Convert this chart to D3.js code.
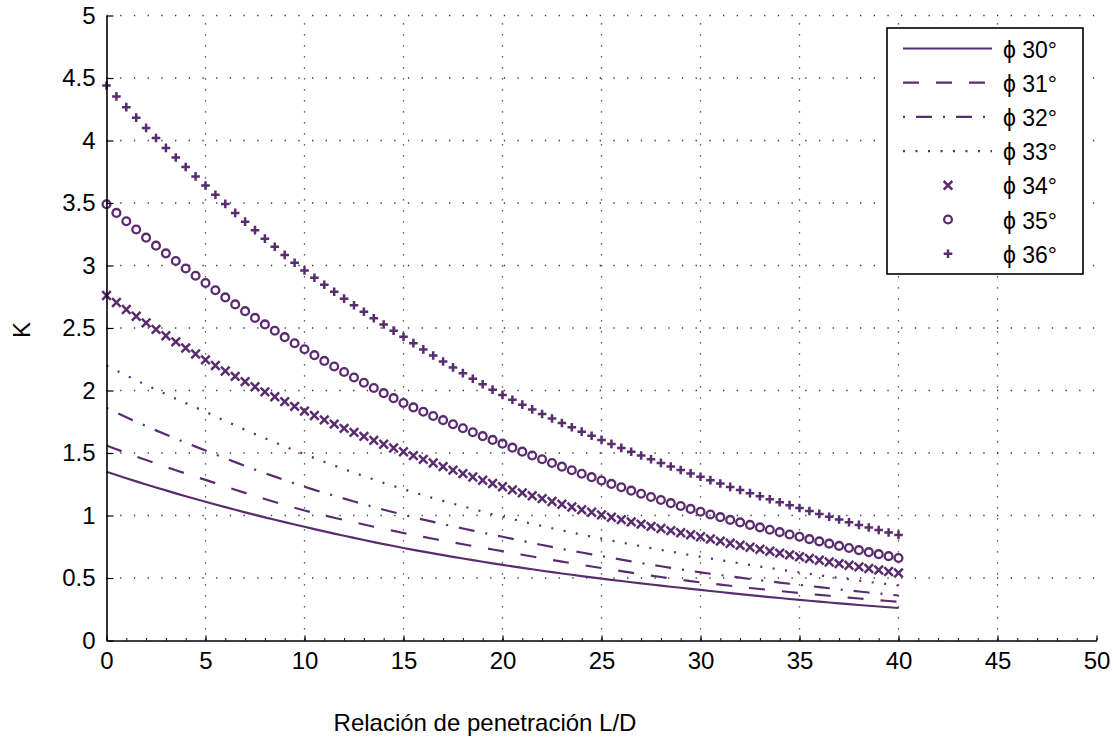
<!DOCTYPE html>
<html>
<head>
<meta charset="utf-8">
<script src="https://cdn.jsdelivr.net/npm/d3@7/dist/d3.min.js"></script>
<style>
  html, body { margin: 0; padding: 0; background: #fff; }
  svg { display: block; }
  text { font-family: "Liberation Sans", Arial, Helvetica, sans-serif; fill: #000; }
</style>
</head>
<body>
<svg id="chart" width="1113" height="738"></svg>
<script>
// Penetration ratio L/D, sampled every 0.5 from 0 to 40
const ratioLD = d3.range(0, 40.5, 0.5);

// Friction angle labels
const phiLabels = ["30°", "31°", "32°", "33°", "34°", "35°", "36°"];

// K coefficient for each friction angle
const k30 = [1.350, 1.324, 1.298, 1.273, 1.248, 1.224, 1.201, 1.177, 1.154, 1.132, 1.110,
  1.088, 1.067, 1.046, 1.025, 1.005, 0.985, 0.966, 0.947, 0.928, 0.910,
  0.891, 0.873, 0.855, 0.838, 0.821, 0.804, 0.787, 0.771, 0.756, 0.740,
  0.725, 0.711, 0.697, 0.683, 0.669, 0.656, 0.643, 0.630, 0.617, 0.605,
  0.593, 0.581, 0.570, 0.558, 0.547, 0.536, 0.526, 0.515, 0.505, 0.495,
  0.485, 0.476, 0.466, 0.457, 0.448, 0.439, 0.430, 0.422, 0.413, 0.405,
  0.396, 0.388, 0.379, 0.371, 0.363, 0.355, 0.347, 0.340, 0.332, 0.325,
  0.318, 0.311, 0.304, 0.297, 0.291, 0.284, 0.278, 0.272, 0.266, 0.260];

const k31 = [1.560, 1.530, 1.501, 1.472, 1.444, 1.416, 1.389, 1.362, 1.336, 1.310, 1.285,
  1.258, 1.232, 1.206, 1.181, 1.156, 1.132, 1.108, 1.085, 1.062, 1.040,
  1.020, 1.001, 0.982, 0.964, 0.946, 0.928, 0.910, 0.893, 0.877, 0.860,
  0.844, 0.829, 0.814, 0.799, 0.784, 0.770, 0.756, 0.742, 0.728, 0.715,
  0.700, 0.686, 0.672, 0.658, 0.644, 0.631, 0.618, 0.605, 0.592, 0.580,
  0.567, 0.555, 0.543, 0.531, 0.519, 0.508, 0.497, 0.486, 0.475, 0.465,
  0.456, 0.447, 0.438, 0.429, 0.420, 0.412, 0.404, 0.396, 0.388, 0.380,
  0.372, 0.365, 0.358, 0.350, 0.343, 0.336, 0.330, 0.323, 0.316, 0.310];

const k32 = [1.860, 1.823, 1.786, 1.751, 1.716, 1.681, 1.648, 1.615, 1.583, 1.551, 1.520,
  1.488, 1.457, 1.427, 1.397, 1.367, 1.339, 1.311, 1.283, 1.256, 1.230,
  1.205, 1.181, 1.158, 1.135, 1.112, 1.090, 1.068, 1.046, 1.026, 1.005,
  0.986, 0.967, 0.949, 0.931, 0.913, 0.896, 0.879, 0.862, 0.846, 0.830,
  0.813, 0.796, 0.780, 0.764, 0.749, 0.733, 0.718, 0.704, 0.689, 0.675,
  0.661, 0.647, 0.633, 0.620, 0.607, 0.594, 0.581, 0.569, 0.557, 0.545,
  0.534, 0.523, 0.513, 0.503, 0.492, 0.483, 0.473, 0.463, 0.454, 0.445,
  0.436, 0.427, 0.418, 0.409, 0.400, 0.392, 0.384, 0.376, 0.368, 0.360];

const k33 = [2.200, 2.160, 2.121, 2.082, 2.044, 2.007, 1.970, 1.934, 1.899, 1.864, 1.830,
  1.793, 1.756, 1.721, 1.686, 1.651, 1.618, 1.585, 1.553, 1.521, 1.490,
  1.459, 1.429, 1.400, 1.371, 1.343, 1.315, 1.288, 1.261, 1.236, 1.210,
  1.186, 1.162, 1.139, 1.117, 1.095, 1.073, 1.052, 1.031, 1.010, 0.990,
  0.971, 0.952, 0.934, 0.916, 0.898, 0.881, 0.864, 0.847, 0.831, 0.815,
  0.799, 0.784, 0.769, 0.754, 0.739, 0.725, 0.711, 0.697, 0.683, 0.670,
  0.656, 0.643, 0.630, 0.617, 0.604, 0.592, 0.580, 0.568, 0.556, 0.545,
  0.534, 0.522, 0.511, 0.500, 0.490, 0.479, 0.469, 0.459, 0.450, 0.440];

const k34 = [2.760, 2.704, 2.648, 2.594, 2.541, 2.489, 2.438, 2.389, 2.340, 2.292, 2.245,
  2.200, 2.156, 2.113, 2.071, 2.030, 1.989, 1.950, 1.911, 1.873, 1.835,
  1.800, 1.765, 1.731, 1.697, 1.665, 1.633, 1.601, 1.570, 1.540, 1.510,
  1.479, 1.449, 1.420, 1.391, 1.363, 1.335, 1.308, 1.282, 1.256, 1.230,
  1.205, 1.181, 1.158, 1.135, 1.112, 1.090, 1.068, 1.046, 1.026, 1.005,
  0.986, 0.967, 0.949, 0.931, 0.913, 0.896, 0.879, 0.862, 0.846, 0.830,
  0.812, 0.795, 0.778, 0.762, 0.746, 0.730, 0.714, 0.699, 0.685, 0.670,
  0.656, 0.642, 0.628, 0.615, 0.602, 0.589, 0.576, 0.564, 0.552, 0.540];

const k35 = [3.490, 3.421, 3.354, 3.288, 3.223, 3.159, 3.097, 3.036, 2.976, 2.918, 2.860,
  2.802, 2.745, 2.689, 2.635, 2.581, 2.529, 2.478, 2.427, 2.378, 2.330,
  2.283, 2.237, 2.192, 2.148, 2.104, 2.062, 2.020, 1.979, 1.939, 1.900,
  1.865, 1.830, 1.796, 1.763, 1.730, 1.698, 1.666, 1.635, 1.605, 1.575,
  1.543, 1.511, 1.480, 1.450, 1.420, 1.391, 1.362, 1.334, 1.307, 1.280,
  1.253, 1.226, 1.199, 1.174, 1.148, 1.124, 1.099, 1.076, 1.053, 1.030,
  1.008, 0.987, 0.965, 0.945, 0.925, 0.905, 0.886, 0.867, 0.848, 0.830,
  0.811, 0.793, 0.775, 0.757, 0.740, 0.723, 0.707, 0.691, 0.675, 0.660];

const k36 = [4.440, 4.353, 4.267, 4.183, 4.101, 4.020, 3.941, 3.864, 3.788, 3.713, 3.640,
  3.566, 3.493, 3.421, 3.351, 3.283, 3.215, 3.150, 3.085, 3.022, 2.960,
  2.902, 2.846, 2.790, 2.735, 2.682, 2.630, 2.578, 2.528, 2.479, 2.430,
  2.379, 2.329, 2.280, 2.232, 2.185, 2.139, 2.094, 2.050, 2.007, 1.965,
  1.926, 1.887, 1.849, 1.812, 1.776, 1.740, 1.706, 1.671, 1.638, 1.605,
  1.573, 1.541, 1.510, 1.480, 1.450, 1.421, 1.392, 1.364, 1.337, 1.310,
  1.283, 1.256, 1.229, 1.204, 1.179, 1.154, 1.130, 1.106, 1.083, 1.060,
  1.036, 1.013, 0.990, 0.968, 0.946, 0.925, 0.904, 0.884, 0.864, 0.845];

// Axis ticks
const xTicks = [0, 5, 10, 15, 20, 25, 30, 35, 40, 45, 50];
const yTicks = [0, 0.5, 1, 1.5, 2, 2.5, 3, 3.5, 4, 4.5, 5];
const xGrid = [5, 10, 15, 20, 25, 30, 35, 40, 45];
const yGrid = [0.5, 1, 1.5, 2, 2.5, 3, 3.5, 4, 4.5, 5];
const xMinor = d3.range(0, 51, 1);

const COLOR = "#592b6f";
const FONT = 24;

// Series styles: line dash patterns or marker shapes
const series = [
  { label: phiLabels[0], values: k30, kind: "line", dash: null },
  { label: phiLabels[1], values: k31, kind: "line", dash: "16,17" },
  { label: phiLabels[2], values: k32, kind: "line", dash: "2,11,16,11" },
  { label: phiLabels[3], values: k33, kind: "line", dash: "2,10.5" },
  { label: phiLabels[4], values: k34, kind: "cross" },
  { label: phiLabels[5], values: k35, kind: "circle" },
  { label: phiLabels[6], values: k36, kind: "plus" }
];

const svg = d3.select("#chart");

const x = d3.scaleLinear().domain([0, 50]).range([106.5, 1096.5]);
const y = d3.scaleLinear().domain([0, 5]).range([640.5, 15.5]);

// Dotted grid
const grid = svg.append("g").attr("class", "grid");
grid.selectAll("line.h").data(yGrid).join("line")
  .attr("class", "h")
  .attr("x1", x(0)).attr("x2", x(50))
  .attr("y1", d => y(d)).attr("y2", d => y(d))
  .attr("stroke", "#333").attr("stroke-width", 1.3)
  .attr("stroke-dasharray", "1.3,12.4");
grid.selectAll("line.v").data(xGrid).join("line")
  .attr("class", "v")
  .attr("x1", d => x(d)).attr("x2", d => x(d))
  .attr("y1", y(0)).attr("y2", y(5))
  .attr("stroke", "#333").attr("stroke-width", 1.3)
  .attr("stroke-dasharray", "1.3,9.7");

// Marker shapes
function markerPath(kind, s) {
  if (kind === "cross") {
    return `M${-s},${-s}L${s},${s}M${-s},${s}L${s},${-s}`;
  }
  if (kind === "plus") {
    return `M${-s},0L${s},0M0,${-s}L0,${s}`;
  }
  return "";
}

const plot = svg.append("g").attr("class", "series");
const line = d3.line().x((d, i) => x(ratioLD[i])).y(d => y(d));

series.forEach(s => {
  if (s.kind === "line") {
    plot.append("path")
      .datum(s.values)
      .attr("d", line)
      .attr("fill", "none")
      .attr("stroke", COLOR)
      .attr("stroke-width", 2.2)
      .attr("stroke-dasharray", s.dash);
  } else if (s.kind === "circle") {
    plot.append("g").selectAll("circle").data(s.values).join("circle")
      .attr("cx", (d, i) => x(ratioLD[i]))
      .attr("cy", d => y(d))
      .attr("r", 3.9)
      .attr("fill", "none")
      .attr("stroke", COLOR)
      .attr("stroke-width", 2.3);
  } else {
    plot.append("g").selectAll("path").data(s.values).join("path")
      .attr("transform", (d, i) => `translate(${x(ratioLD[i])},${y(d)})`)
      .attr("d", markerPath(s.kind, 4.3))
      .attr("fill", "none")
      .attr("stroke", COLOR)
      .attr("stroke-width", 2.5);
  }
});

// Axes
function styleAxis(g) {
  g.select(".domain").attr("stroke", "#000").attr("stroke-width", 1.6);
  g.selectAll(".tick line").attr("stroke", "#000").attr("stroke-width", 1.2);
  g.selectAll("text")
    .attr("font-family", "'Liberation Sans', Arial, sans-serif")
    .attr("font-size", FONT).attr("fill", "#000");
}

svg.append("g")
  .attr("transform", `translate(0,${y(0)})`)
  .call(d3.axisBottom(x).tickValues(xMinor).tickSizeInner(-2.5).tickSizeOuter(0).tickFormat(""))
  .call(g => { g.select(".domain").remove(); g.selectAll(".tick line").attr("stroke", "#000"); });

svg.append("g")
  .attr("transform", `translate(0,${y(0)})`)
  .call(d3.axisBottom(x).tickValues(xTicks).tickSizeInner(-5).tickSizeOuter(0)
    .tickPadding(11).tickFormat(d3.format("d")))
  .call(styleAxis);

svg.append("g")
  .attr("transform", `translate(${x(0)},0)`)
  .call(d3.axisLeft(y).tickValues(yTicks).tickSizeInner(-7).tickSizeOuter(0)
    .tickPadding(11).tickFormat(d => String(d)))
  .call(styleAxis);

// Axis titles
svg.append("text")
  .attr("x", 485).attr("y", 731)
  .attr("text-anchor", "middle")
  .attr("font-size", FONT)
  .text("Relación de penetración L/D");

svg.append("text")
  .attr("transform", "translate(30,330) rotate(-90)")
  .attr("text-anchor", "middle")
  .attr("font-size", FONT)
  .text("K");

// Legend
const legend = svg.append("g").attr("class", "legend");
legend.append("rect")
  .attr("x", 887).attr("y", 28)
  .attr("width", 196).attr("height", 246)
  .attr("fill", "#fff").attr("stroke", "#000").attr("stroke-width", 1.6);

const rowY = i => 48.5 + i * 34.2;
series.forEach((s, i) => {
  const cy = rowY(i);
  if (s.kind === "line") {
    legend.append("line")
      .attr("x1", 903).attr("x2", 992)
      .attr("y1", cy).attr("y2", cy)
      .attr("stroke", COLOR).attr("stroke-width", 2.2)
      .attr("stroke-dasharray", s.dash);
  } else if (s.kind === "circle") {
    legend.append("circle")
      .attr("cx", 948).attr("cy", cy).attr("r", 3.9)
      .attr("fill", "none").attr("stroke", COLOR).attr("stroke-width", 2.3);
  } else {
    legend.append("path")
      .attr("transform", `translate(948,${cy})`)
      .attr("d", markerPath(s.kind, 4.3))
      .attr("fill", "none").attr("stroke", COLOR).attr("stroke-width", 2.5);
  }
  legend.append("text")
    .attr("x", 1003).attr("y", cy + 9)
    .attr("font-size", 23)
    .text("ϕ " + s.label);
});
</script>
</body>
</html>
